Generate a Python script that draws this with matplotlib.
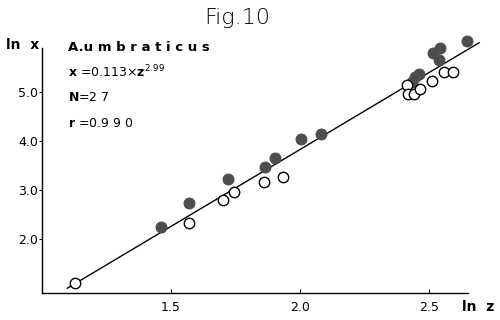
import matplotlib
matplotlib.use('Agg')
import matplotlib.pyplot as plt

# ln z / ln x values
open_lnz = [1.129, 1.569, 1.701, 1.743, 1.859, 1.932, 2.415, 2.419, 2.442, 2.465, 2.512, 2.558, 2.593]
open_lnx = [1.092, 2.319, 2.789, 2.953, 3.157, 3.260, 5.141, 4.957, 4.957, 5.059, 5.223, 5.407, 5.407]

fill_lnz = [1.461, 1.569, 1.720, 1.863, 1.902, 2.002, 2.079, 2.434, 2.446, 2.461, 2.515, 2.542, 2.539, 2.647]
fill_lnx = [2.237, 2.728, 3.219, 3.464, 3.648, 4.037, 4.139, 5.202, 5.305, 5.366, 5.796, 5.898, 5.652, 6.041]

# regression line end points
line_lnz = [1.098, 2.693]
line_lnx = [0.990, 6.000]

xticks = [1.5, 2.0, 2.5]
xtick_labels = ['1.5', '2.0', '2.5']
yticks = [2.0, 3.0, 4.0, 5.0]
ytick_labels = ['2.0', '3.0', '4.0', '5.0']

fig = plt.figure(figsize=(5, 3.2), dpi=100)
ax = fig.add_axes([0.084, 0.084, 0.852, 0.807])
ax.set_xlim(1.0, 2.65)
ax.set_ylim(0.89, 6.16)

ax.plot(line_lnz, line_lnx, color='black', lw=1.0, clip_on=False, zorder=2)
ax.plot(fill_lnz, fill_lnx, 'o', ms=7.8, mfc='#4d4d4d', mec='#4d4d4d',
        mew=0.8, clip_on=False, zorder=3)
ax.plot(open_lnz, open_lnx, 'o', ms=7.5, mfc='white', mec='black',
        mew=1.0, clip_on=False, zorder=4)

for s in ['top', 'right']:
    ax.spines[s].set_visible(False)
ax.spines['left'].set_bounds(0.89, 5.9)
ax.spines['left'].set_linewidth(1.0)
ax.spines['bottom'].set_linewidth(1.0)

ax.set_xticks(xticks)
ax.set_xticklabels(xtick_labels, fontsize=9)
ax.set_yticks(yticks)
ax.set_yticklabels(ytick_labels, fontsize=9)
ax.tick_params(axis='x', direction='in', length=3, width=0.8, pad=6)
ax.tick_params(axis='y', direction='out', length=2, width=0.8, pad=1)

fig.text(0.474, 0.945, 'Fig.10', fontsize=16, ha='center', va='center',
         family='DejaVu Sans', fontweight='light')
fig.text(0.012, 0.858, 'ln  x', fontsize=10, fontweight='bold', va='center')
fig.text(0.925, 0.04, 'ln  z', fontsize=10, fontweight='bold', va='center')

fig.text(0.136, 0.853, 'A.u m b r a t i c u s', fontsize=9.5, fontweight='bold', va='center')
fig.text(0.136, 0.775, r'$\mathbf{x}$ =0.113$\times$$\mathbf{z}^{2.99}$', fontsize=9, va='center')
fig.text(0.136, 0.695, r'$\mathbf{N}$=2 7', fontsize=9, va='center')
fig.text(0.136, 0.613, r'$\mathbf{r}$ =0.9 9 0', fontsize=9, va='center')

fig.savefig('out.png', dpi=100)
